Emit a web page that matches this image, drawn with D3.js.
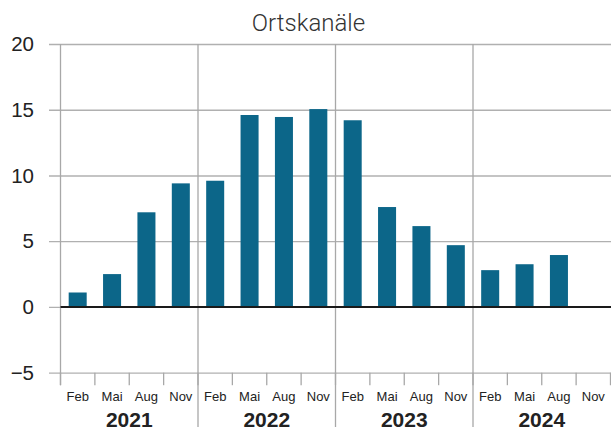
<!DOCTYPE html>
<html>
<head>
<meta charset="utf-8">
<script src="https://cdn.jsdelivr.net/npm/d3@7"></script>
<style>
  body { margin: 0; background: #fff; }
  svg { display: block; font-family: "Liberation Sans", Arial, sans-serif; }
</style>
</head>
<body>
<div id="chart"></div>
<script>
// Daten: Quartalswerte Ortskanäle
const years = ["2021", "2022", "2023", "2024"];
const months = ["Feb", "Mai", "Aug", "Nov"];
const values = [
    1.1, 2.5, 7.2, 9.4,
    9.6, 14.6, 14.45, 15.05,
    14.2, 7.6, 6.15, 4.7,
    2.8, 3.25, 3.95, null
];
const yTicks = [-5, 0, 5, 10, 15, 20];

const width = 611;
const height = 432;

const left = 60.5, right = 610.5;
const yTop = 44, yBottom = 372.7;

const svg = d3.select("#chart")
    .append("svg")
    .attr("width", width)
    .attr("height", height);

const keys = [];
years.forEach(y => months.forEach(m => keys.push(y + "-" + m)));
const data = keys.map((k, i) => ({ key: k, year: k.split("-")[0], month: k.split("-")[1], value: values[i] }));

const x = d3.scaleBand()
    .domain(keys)
    .range([left, right])
    .paddingInner(0.476)
    .paddingOuter(0.238);

const y = d3.scaleLinear()
    .domain([-5, 20])
    .range([yBottom, yTop]);

const gap = (x.step() - x.bandwidth()) / 2;
const boundary = k => x(k) - gap;

// horizontale Gitterlinien + Beschriftung
const yAxis = d3.axisLeft(y)
    .tickValues(yTicks)
    .tickSize(-(width - 49))
    .tickPadding(15)
    .tickFormat(d => d < 0 ? "\u2212" + Math.abs(d) : d);

const gy = svg.append("g")
    .attr("transform", "translate(49,0)")
    .call(yAxis);
gy.select(".domain").remove();
gy.selectAll(".tick line").attr("stroke", "#b0b0b0").attr("stroke-width", 1.3);
gy.selectAll(".tick text")
    .attr("fill", "#222")
    .style("font-size", "20.5px");

// Quartalsstriche unten
svg.append("g").selectAll("line")
    .data(keys.concat(["end"]))
    .enter()
    .append("line")
    .attr("x1", d => d === "end" ? right : boundary(d))
    .attr("x2", d => d === "end" ? right : boundary(d))
    .attr("y1", yBottom)
    .attr("y2", yBottom + 12.5)
    .attr("stroke", "#a8a8a8")
    .attr("stroke-width", 1.3);

// vertikale Jahreslinien
svg.append("g").selectAll("line")
    .data(years)
    .enter()
    .append("line")
    .attr("x1", d => boundary(d + "-Feb"))
    .attr("x2", d => boundary(d + "-Feb"))
    .attr("y1", yTop)
    .attr("y2", (d, i) => i === 0 ? yBottom + 12.5 : 427)
    .attr("stroke", "#a8a8a8")
    .attr("stroke-width", 1.3);

// Balken
svg.append("g").selectAll("rect")
    .data(data.filter(d => d.value !== null))
    .enter()
    .append("rect")
    .attr("x", d => x(d.key))
    .attr("width", x.bandwidth())
    .attr("y", d => y(Math.max(0, d.value)))
    .attr("height", d => Math.abs(y(d.value) - y(0)))
    .attr("fill", "#0c6689");

// Nulllinie
svg.append("line")
    .attr("x1", left)
    .attr("x2", width)
    .attr("y1", y(0))
    .attr("y2", y(0))
    .attr("stroke", "#1a1a1a")
    .attr("stroke-width", 2);

// Monatsbeschriftung
svg.append("g").selectAll("text")
    .data(data)
    .enter()
    .append("text")
    .attr("x", d => x(d.key) + x.bandwidth() / 2)
    .attr("y", 401)
    .attr("text-anchor", "middle")
    .attr("fill", "#222")
    .style("font-size", "13px")
    .text(d => d.month);

// Jahresbeschriftung
svg.append("g").selectAll("text")
    .data(years)
    .enter()
    .append("text")
    .attr("x", d => (boundary(d + "-Feb") + boundary(d + "-Nov") + x.step()) / 2)
    .attr("y", 427)
    .attr("text-anchor", "middle")
    .attr("fill", "#222")
    .style("font-size", "21px")
    .style("font-weight", "bold")
    .text(d => d);

// Titel
svg.append("text")
    .attr("x", width / 2 + 3)
    .attr("y", 31)
    .attr("text-anchor", "middle")
    .attr("fill", "#333")
    .style("font-family", "Roboto, sans-serif")
    .style("font-weight", 300)
    .style("font-size", "24px")
    .text("Ortskanäle");
</script>
</body>
</html>
